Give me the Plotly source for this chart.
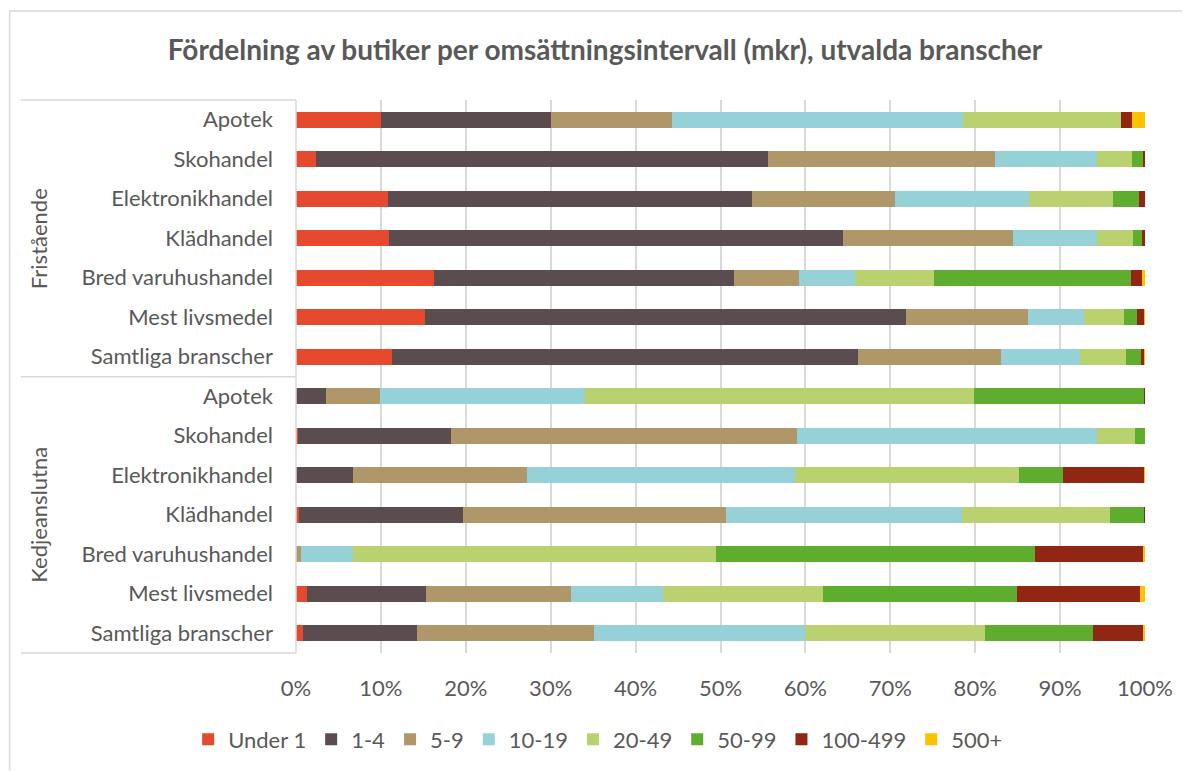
import plotly.graph_objects as go

# rows top to bottom
groups = ["Fristående"] * 7 + ["Kedjeanslutna"] * 7
branches = ["Apotek", "Skohandel", "Elektronikhandel", "Klädhandel",
            "Bred varuhushandel", "Mest livsmedel", "Samtliga branscher"] * 2

intervals = ["Under 1", "1-4", "5-9", "10-19", "20-49", "50-99", "100-499", "500+"]
colors = ["#E64A2E", "#5B4C4F", "#B0976A", "#97D1D8", "#B9D16F", "#5EAD2E", "#922614", "#FFC000"]

# share of shops (%) per interval, one value per row
under_1   = [10.0, 2.4, 10.8, 11.0, 16.2, 15.2, 11.3, 0.0, 0.2, 0.0, 0.4, 0.0, 1.3, 0.8]
r_1_4     = [20.0, 53.2, 42.9, 53.4, 35.4, 56.7, 54.9, 3.5, 18.1, 6.7, 19.3, 0.0, 14.0, 13.5]
r_5_9     = [14.3, 26.7, 16.8, 20.0, 7.6, 14.3, 16.8, 6.4, 40.7, 20.5, 30.9, 0.6, 17.1, 20.8]
r_10_19   = [34.3, 12.1, 15.8, 10.0, 6.7, 6.6, 9.3, 24.1, 35.4, 31.6, 27.9, 6.1, 10.8, 24.9]
r_20_49   = [18.6, 4.1, 9.9, 4.2, 9.3, 4.7, 5.5, 45.8, 4.4, 26.4, 17.4, 42.8, 18.9, 21.1]
r_50_99   = [0.0, 1.3, 3.1, 1.1, 23.2, 1.5, 1.7, 20.1, 1.2, 5.1, 4.0, 37.5, 22.8, 12.8]
r_100_499 = [1.3, 0.2, 0.7, 0.3, 1.3, 0.9, 0.4, 0.1, 0.0, 9.6, 0.1, 12.8, 14.5, 5.9]
r_500     = [1.5, 0.0, 0.0, 0.0, 0.3, 0.1, 0.1, 0.0, 0.0, 0.1, 0.0, 0.2, 0.6, 0.2]

series = [under_1, r_1_4, r_5_9, r_10_19, r_20_49, r_50_99, r_100_499, r_500]
x_ticks = list(range(0, 101, 10))

rows = list(range(len(branches)))
font = "Lato, 'Noto Sans', sans-serif"
grey = "#595959"

fig = go.Figure()
for name, vals, col in zip(intervals, series, colors):
    fig.add_trace(go.Bar(
        y=rows, x=vals, name=name, orientation="h",
        marker=dict(color=col, line=dict(width=0)),
        hovertemplate=name + ": %{x:.1f}%<extra></extra>",
    ))

# page has an 8px body margin, so the figure starts at (8, 8) on screen
OFF = 8
FW, FH = 1190 - OFF, 771 - OFF
# plot area in screen px: x 295.5-1145.5, y 100-653.5
L, R, T, B = 295.5, 1145.5, 100, 653.5
W, H = R - L, B - T
px = lambda p: (p - L) / W
py = lambda p: (B - p) / H

shapes = []
line_col = "#D9D9D9"
# category box lines
for yy in [T, 377, B]:
    shapes.append(dict(type="line", xref="paper", yref="paper",
                       x0=px(20), x1=px(L), y0=py(yy), y1=py(yy),
                       line=dict(color=line_col, width=1.5)))
shapes.append(dict(type="line", xref="paper", yref="paper",
                   x0=0, x1=0, y0=0, y1=1, line=dict(color=line_col, width=1.5)))
# outer chart border
shapes.append(dict(type="line", xref="paper", yref="paper",
                   x0=px(8.5), x1=px(1190), y0=py(11), y1=py(11),
                   line=dict(color=line_col, width=1.5)))
shapes.append(dict(type="line", xref="paper", yref="paper",
                   x0=px(8.8), x1=px(8.8), y0=py(11), y1=py(771),
                   line=dict(color=line_col, width=1.5)))

annotations = []
for g, center in [("Fristående", (T + 377) / 2), ("Kedjeanslutna", (377 + B) / 2)]:
    annotations.append(dict(text=g, xref="paper", yref="paper",
                            x=px(38), y=py(center), textangle=-90,
                            xanchor="center", yanchor="middle",
                            showarrow=False, font=dict(size=22, color=grey, family=font)))

fig.update_layout(
    barmode="stack",
    bargap=0.59,
    width=FW, height=FH,
    margin=dict(l=L - OFF, r=1190 - R, t=T - OFF, b=771 - B, autoexpand=False),
    paper_bgcolor="white", plot_bgcolor="white",
    font=dict(family=font, color=grey, size=22),
    title=dict(text="<b>Fördelning av butiker per omsättningsintervall (mkr), utvalda branscher</b>",
               x=(605 - OFF) / FW, xanchor="center", y=1 - (50 - OFF) / FH, yanchor="middle",
               font=dict(size=28, color=grey, family=font)),
    xaxis=dict(range=[0, 100], tickvals=x_ticks, ticktext=[f"{t}%" for t in x_ticks],
               showgrid=True, gridcolor=line_col, gridwidth=1.5, zeroline=False,
               showline=False, ticks="", tickfont=dict(size=22, color=grey), ticklabelstandoff=20),
    yaxis=dict(tickvals=rows, ticktext=branches, autorange="reversed",
               range=[13.5, -0.5], showgrid=False, zeroline=False, showline=False,
               ticks="", ticklabelstandoff=22, tickfont=dict(size=22, color=grey)),
    legend=dict(orientation="h", x=px(598), xanchor="center", y=py(740), yanchor="middle",
                font=dict(size=22, color=grey), traceorder="normal",
                itemwidth=30, tracegroupgap=0),
    shapes=shapes,
    annotations=annotations,
    showlegend=True,
)

fig.write_html("out.html")
